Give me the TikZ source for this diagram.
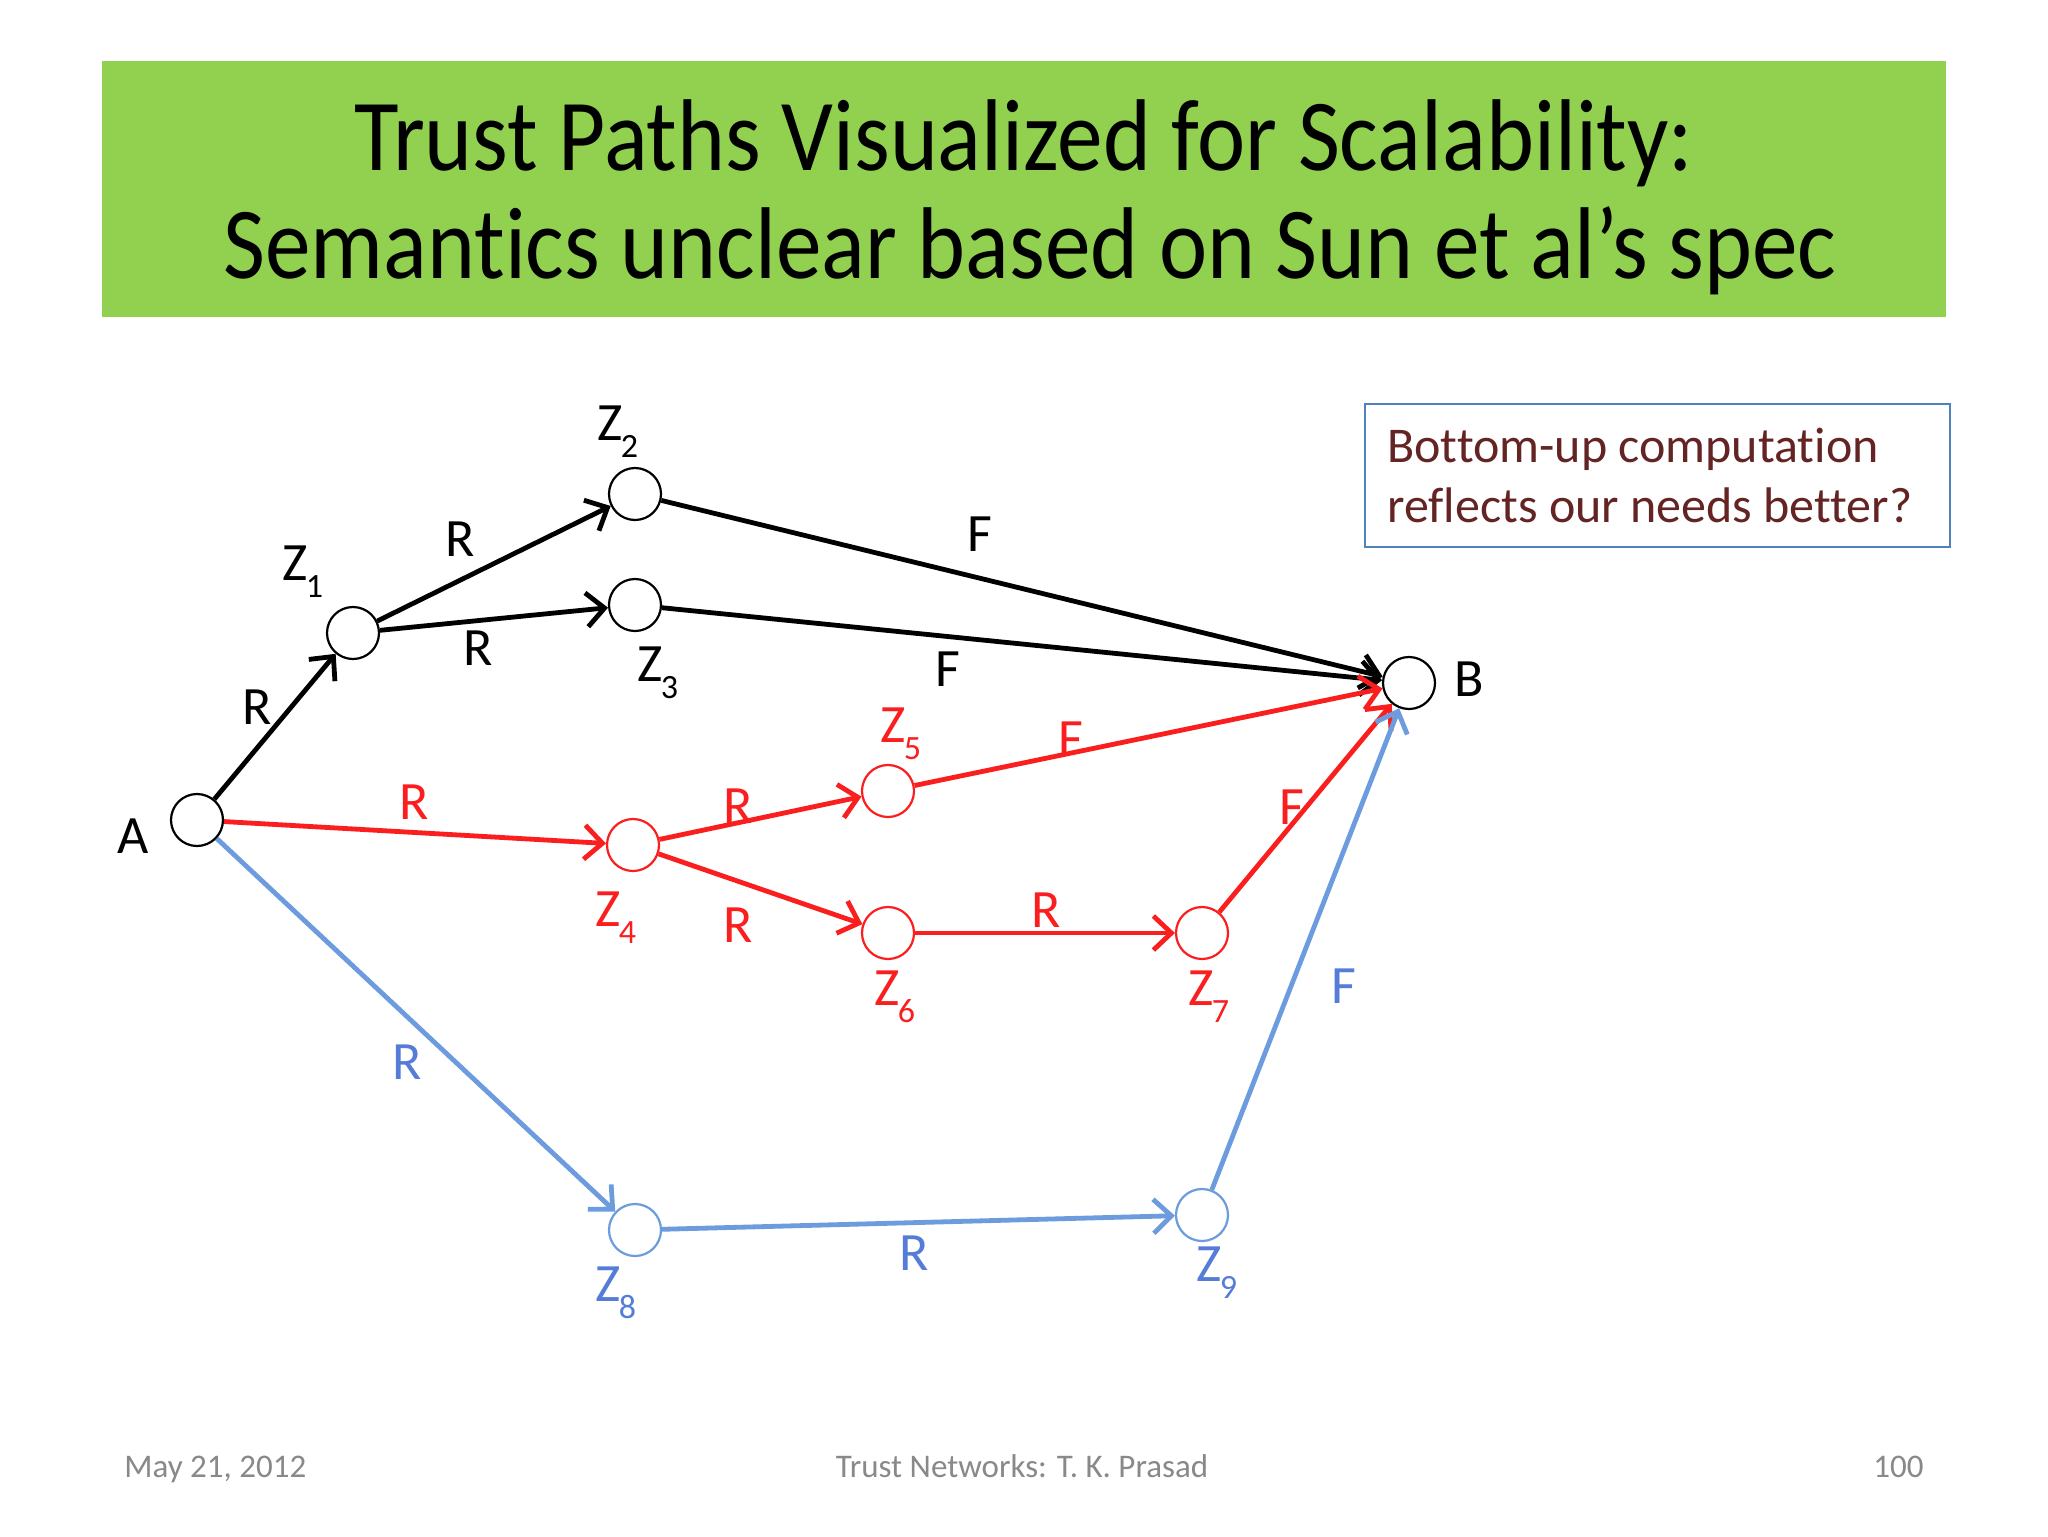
\documentclass[tikz,border=0pt]{standalone}
\usepackage{fontspec}
\setmainfont[Ligatures={NoCommon}]{Carlito}
\newfontfamily\titlefont[FakeStretch=0.895,Ligatures={NoCommon}]{Carlito}
\usetikzlibrary{arrows.meta}
\definecolor{bannergreen}{RGB}{146,208,80}
\definecolor{edgered}{RGB}{250,30,30}
\definecolor{edgeblue}{RGB}{108,155,222}
\definecolor{lblblue}{RGB}{85,125,215}
\definecolor{boxborder}{RGB}{79,129,189}
\definecolor{boxtext}{RGB}{99,36,35}
\definecolor{footgray}{RGB}{137,137,137}
\newcommand{\zl}[1]{Z\kern-0.04em\raisebox{-0.32em}{\fontsize{17pt}{17pt}\selectfont #1}}
\begin{document}
\begin{tikzpicture}[x=0.5pt,y=-0.5pt,
  vtx/.style={circle,draw,fill=white,line width=1.1pt,minimum size=26pt,inner sep=0pt},
  edge/.style={line width=2.4pt,-{Straight Barb[length=9pt,width=17pt]}},
  lbl/.style={font=\fontsize{27pt}{30pt}\selectfont,inner sep=0pt},
  foot/.style={font=\fontsize{16.5pt}{18pt}\selectfont,text=footgray,inner sep=0pt},
  ttl/.style={font=\titlefont\fontsize{51pt}{56pt}\selectfont,inner sep=0pt,anchor=base}]
\path[use as bounding box,fill=white] (0,0) rectangle (2048,1536);
% banner
\fill[bannergreen] (102,61) rectangle (1946,317);
\node[ttl] (t1) at (1024,170) {Trust Paths Visualized for Scalability:};
\node[ttl] (t2) at (1030,278) {Semantics unclear based on Sun et al’s spec};
% note box
\draw[boxborder,line width=1pt] (1365,404) rectangle (1950,547);
\node[anchor=base west,inner sep=0pt,text=boxtext,font=\fontsize{25pt}{28pt}\selectfont] (n1) at (1387,462) {Bottom-up computation};
\node[anchor=base west,inner sep=0pt,text=boxtext,font=\fontsize{25pt}{28pt}\selectfont] (n2) at (1387,522) {reflects our needs better?};
% vertices
\node[vtx] (A) at (197,820) {};
\node[vtx] (Z1) at (353,633) {};
\node[vtx] (Z2) at (635,494) {};
\node[vtx] (Z3) at (635,605) {};
\node[vtx] (B) at (1409,683) {};
\node[vtx,draw=edgered] (Z4) at (633,845) {};
\node[vtx,draw=edgered] (Z5) at (888,791) {};
\node[vtx,draw=edgered] (Z6) at (888,933) {};
\node[vtx,draw=edgered] (Z7) at (1202,933) {};
\node[vtx,draw=edgeblue] (Z8) at (635,1230) {};
\node[vtx,draw=edgeblue] (Z9) at (1202,1215) {};
% black edges
\draw[edge] (A) -- (Z1);
\draw[edge] (Z1) -- (Z2);
\draw[edge] (Z1) -- (Z3);
\draw[edge] (Z2) -- (B);
\draw[edge] (Z3) -- (B);
% red edges
\draw[edge,edgered] (A) -- (Z4);
\draw[edge,edgered] (Z4) -- (Z5);
\draw[edge,edgered] (Z4) -- (Z6);
\draw[edge,edgered] (Z5) -- (B);
\draw[edge,edgered] (Z6) -- (Z7);
\draw[edge,edgered] (Z7) -- (B);
% blue edges
\draw[edge,edgeblue] (A) -- (Z8);
\draw[edge,edgeblue] (Z8) -- (Z9);
\draw[edge,edgeblue] (Z9) -- (B);
% vertex labels
\node[lbl] (lA) at (133,836) {A};
\node[lbl] (lB) at (1469,679) {B};
\node[lbl] (l1) at (303,572) {\zl{1}};
\node[lbl] (l2) at (618,432) {\zl{2}};
\node[lbl] (l3) at (658,673) {\zl{3}};
\node[lbl,text=edgered] (l4) at (616,918) {\zl{4}};
\node[lbl,text=edgered] (l5) at (901,734) {\zl{5}};
\node[lbl,text=edgered] (l6) at (895,997) {\zl{6}};
\node[lbl,text=edgered] (l7) at (1209,997) {\zl{7}};
\node[lbl,text=lblblue] (l8) at (616,1293) {\zl{8}};
\node[lbl,text=lblblue] (l9) at (1217,1273) {\zl{9}};
% edge labels
\node[lbl] (eA1) at (257,707) {R};
\node[lbl] (e12) at (460,539) {R};
\node[lbl] (e13) at (478,648) {R};
\node[lbl] (e2B) at (980,534) {F};
\node[lbl] (e3B) at (948,669) {F};
\node[lbl,text=edgered] (eA4) at (414,802) {R};
\node[lbl,text=edgered] (e45) at (738,806) {R};
\node[lbl,text=edgered] (e46) at (738,925) {R};
\node[lbl,text=edgered] (e5B) at (1071,739) {F};
\node[lbl,text=edgered] (e67) at (1046,910) {R};
\node[lbl,text=edgered] (e7B) at (1292,807) {F};
\node[lbl,text=lblblue] (eA8) at (407,1062) {R};
\node[lbl,text=lblblue] (e89) at (914,1253) {R};
\node[lbl,text=lblblue] (e9B) at (1344,986) {F};
% footer
\node[foot,anchor=base west] (f1) at (124,1477) {May 21, 2012};
\node[foot,anchor=base] (f2) at (1022,1477) {Trust Networks: T. K. Prasad};
\node[foot,anchor=base east] (f3) at (1924,1477) {100};
\end{tikzpicture}
\end{document}
